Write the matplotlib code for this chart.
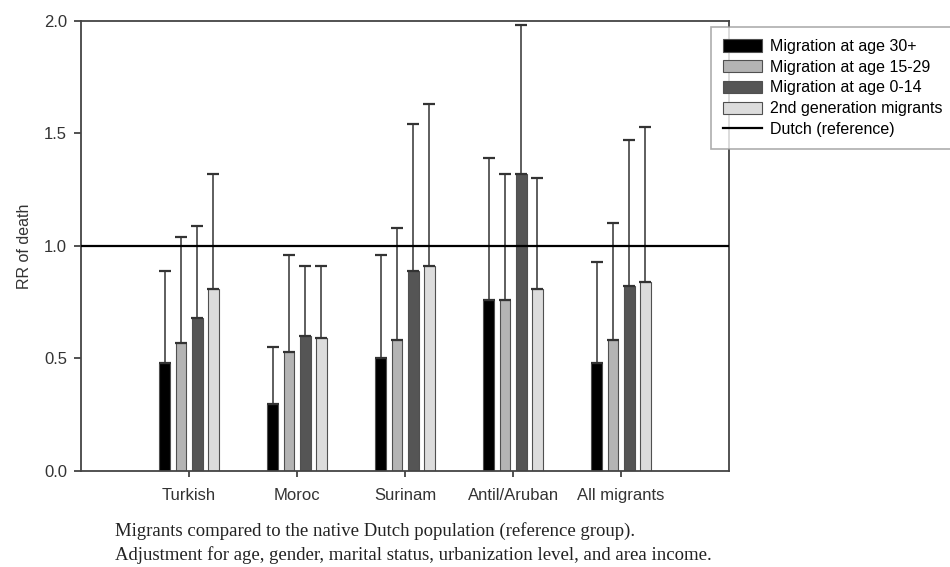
import numpy as np
import matplotlib.pyplot as plt

plt.rcParams['font.family'] = ['Liberation Sans', 'DejaVu Sans']

# data
groups = ['Turkish', 'Moroc', 'Surinam', 'Antil/Aruban', 'All migrants']
series = ['Migration at age 30+', 'Migration at age 15-29',
          'Migration at age 0-14', '2nd generation migrants']

rr_30plus = [0.48, 0.30, 0.50, 0.76, 0.48]
rr_15_29 = [0.57, 0.53, 0.58, 0.76, 0.58]
rr_0_14 = [0.68, 0.60, 0.89, 1.32, 0.82]
rr_2nd = [0.81, 0.59, 0.91, 0.81, 0.84]

up_30plus = [0.89, 0.55, 0.96, 1.39, 0.93]
up_15_29 = [1.04, 0.96, 1.08, 1.32, 1.10]
up_0_14 = [1.09, 0.91, 1.54, 1.98, 1.47]
up_2nd = [1.32, 0.91, 1.63, 1.30, 1.53]

reference = 1.0

values = [rr_30plus, rr_15_29, rr_0_14, rr_2nd]
uppers = [up_30plus, up_15_29, up_0_14, up_2nd]
colors = ['#000000', '#b4b4b4', '#555555', '#dcdcdc']
offsets = [-0.225, -0.075, 0.075, 0.225]

fig = plt.figure(figsize=(9.5, 5.67), dpi=100)
ax = fig.add_axes([0.0853, 0.1693, 0.6821, 0.7937])

x = np.arange(len(groups))
handles = []
for vals, ups, col, off, lab in zip(values, uppers, colors, offsets, series):
    vals = np.array(vals)
    ups = np.array(ups)
    b = ax.bar(x + off, vals, width=0.1, color=col, edgecolor='#505050',
               linewidth=0.8, label=lab, zorder=2)
    handles.append(b)
    ax.errorbar(x + off, vals, yerr=[np.zeros_like(vals), ups - vals],
                fmt='none', ecolor='#333333', elinewidth=1.1,
                capsize=4.5, capthick=1.6, zorder=3)

ref = ax.axhline(reference, color='black', linewidth=1.6, zorder=4,
                 label='Dutch (reference)')

ax.set_xlim(-1, 5)
ax.set_ylim(0, 2.0)
ax.set_xticks(x)
ax.set_xticklabels(groups, fontsize=12)
ax.set_yticks([0.0, 0.5, 1.0, 1.5, 2.0])
ax.set_yticklabels(['0.0', '0.5', '1.0', '1.5', '2.0'], fontsize=12)
ax.tick_params(axis='y', length=5, width=1.2, pad=5, colors='#333333')
ax.tick_params(axis='x', length=4, width=1.2, pad=8, colors='#333333')
ax.set_ylabel('RR of death', fontsize=11.5, color='#333333', labelpad=9)
for s in ax.spines.values():
    s.set_linewidth(1.3)
    s.set_color('#444444')

leg = fig.legend(handles + [ref], series + ['Dutch (reference)'],
                 loc='upper left', bbox_to_anchor=(711 / 950, 1 - 27 / 567),
                 fontsize=11.5, frameon=True, fancybox=False,
                 handlelength=2.45, handleheight=0.8, labelspacing=0.36,
                 handletextpad=0.5, borderpad=0.75, borderaxespad=0)
leg.get_frame().set_edgecolor('#999999')
leg.get_frame().set_linewidth(1.2)

fig.text(115 / 950, 1 - 531 / 567,
         'Migrants compared to the native Dutch population (reference group).',
         family='Liberation Serif', fontsize=13.5, va='center', color='#222222')
fig.text(115 / 950, 1 - 555 / 567,
         'Adjustment for age, gender, marital status, urbanization level, and area income.',
         family='Liberation Serif', fontsize=13.5, va='center', color='#222222')

fig.savefig('out.png', dpi=100)
